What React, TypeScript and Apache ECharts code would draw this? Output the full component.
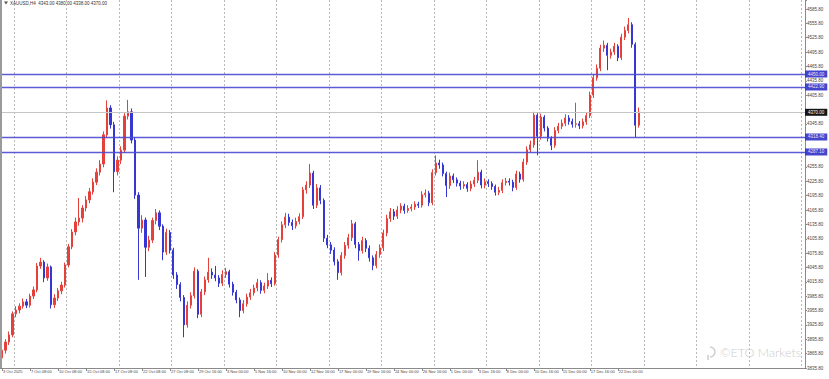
import React, { useEffect, useRef } from "react";
import * as echarts from "echarts";

const symbolTitle = "XAUUSD,H4";

const tickLabels = [
  "3 Oct 2025", "7 Oct 08:00", "10 Oct 08:00", "15 Oct 08:00", "17 Oct 08:00", "22 Oct 08:00",
  "27 Oct 08:00", "29 Oct 16:00", "3 Nov 00:00", "5 Nov 16:00", "10 Nov 00:00", "12 Nov 16:00",
  "17 Nov 00:00", "19 Nov 16:00", "24 Nov 00:00", "26 Nov 16:00", "1 Dec 00:00", "3 Dec 16:00",
  "8 Dec 00:00", "10 Dec 16:00", "15 Dec 00:00", "17 Dec 16:00", "22 Dec 00:00",
];

const yTickLabels = [
  "3835.80", "3865.80", "3895.80", "3925.80", "3955.80", "3985.80", "4015.80", "4045.80",
  "4075.80", "4105.80", "4135.80", "4165.80", "4195.80", "4225.80", "4255.80", "4285.80",
  "4315.80", "4345.80", "4375.80", "4405.80", "4435.80", "4465.80", "4495.80", "4525.80",
  "4555.80", "4585.80",
];

const opens = [
  3857, 3873, 3890, 3905, 3949, 3957, 3965, 3974, 3967, 3986,
  3999, 4049, 4057, 4024, 4047, 3968, 3982, 3997, 4009, 4051,
  4089, 4120, 4141, 4149, 4170, 4187, 4204, 4224, 4245, 4262,
  4323, 4379, 4344, 4246, 4270, 4291, 4362, 4371, 4312, 4197,
  4128, 4145, 4088, 4103, 4144, 4160, 4132, 4078, 4119, 4082,
  4030, 4010, 3983, 3926, 3967, 3987, 4038, 3948, 3995, 4020,
  4036, 4030, 4024, 4013, 4031, 4037, 4011, 3994, 3978, 3956,
  3970, 3984, 3993, 4003, 4014, 3998, 4007, 4019, 4012, 4072,
  4104, 4135, 4151, 4140, 4133, 4142, 4152, 4208, 4218, 4243,
  4176, 4212, 4186, 4107, 4093, 4082, 4058, 4035, 4071, 4092,
  4108, 4137, 4094, 4081, 4102, 4086, 4066, 4050, 4073, 4087,
  4118, 4148, 4162, 4153, 4166, 4174, 4165, 4169, 4172, 4178,
  4176, 4198, 4201, 4181, 4244, 4264, 4260, 4242, 4217, 4237,
  4229, 4222, 4216, 4219, 4211, 4220, 4228, 4245, 4218, 4225,
  4221, 4215, 4203, 4207, 4223, 4226, 4224, 4213, 4241, 4230,
  4266, 4292, 4302, 4364, 4320, 4360, 4337, 4316, 4301, 4332,
  4341, 4347, 4358, 4351, 4345, 4346, 4342, 4350, 4363, 4406,
  4442, 4462, 4504, 4510, 4489, 4496, 4508, 4484, 4527, 4541,
  4553, 4512, 4343,
];

const closes = [
  3873, 3890, 3905, 3949, 3957, 3965, 3974, 3967, 3986, 3999,
  4049, 4057, 4024, 4047, 3968, 3982, 3997, 4009, 4051, 4089,
  4120, 4141, 4149, 4170, 4187, 4204, 4224, 4245, 4262, 4323,
  4379, 4344, 4246, 4270, 4291, 4362, 4371, 4312, 4197, 4128,
  4145, 4088, 4103, 4144, 4160, 4132, 4078, 4119, 4082, 4030,
  4010, 3983, 3926, 3967, 3987, 4038, 3948, 3995, 4020, 4036,
  4030, 4024, 4013, 4031, 4037, 4011, 3994, 3978, 3956, 3970,
  3984, 3993, 4003, 4014, 3998, 4007, 4019, 4012, 4072, 4104,
  4135, 4151, 4140, 4133, 4142, 4152, 4208, 4218, 4243, 4176,
  4212, 4186, 4107, 4093, 4082, 4058, 4035, 4071, 4092, 4108,
  4137, 4094, 4081, 4102, 4086, 4066, 4050, 4073, 4087, 4118,
  4148, 4162, 4153, 4166, 4174, 4165, 4169, 4172, 4178, 4176,
  4198, 4201, 4181, 4244, 4264, 4260, 4242, 4217, 4237, 4229,
  4222, 4216, 4219, 4211, 4220, 4228, 4245, 4218, 4225, 4221,
  4215, 4203, 4207, 4223, 4226, 4224, 4213, 4241, 4230, 4266,
  4292, 4302, 4364, 4320, 4360, 4337, 4316, 4301, 4332, 4341,
  4347, 4358, 4351, 4345, 4346, 4342, 4350, 4363, 4406, 4442,
  4462, 4504, 4510, 4489, 4496, 4508, 4484, 4527, 4541, 4553,
  4512, 4343, 4370,
];

const highs = [
  3884, 3896, 3912, 3954, 3965, 3971, 3981, 3980, 3991, 4006,
  4055, 4066, 4061, 4054, 4050, 3990, 4003, 4016, 4056, 4095,
  4126, 4150, 4191, 4176, 4195, 4212, 4232, 4253, 4270, 4330,
  4395, 4385, 4350, 4278, 4299, 4368, 4396, 4378, 4318, 4203,
  4155, 4150, 4112, 4150, 4168, 4165, 4136, 4127, 4124, 4087,
  4036, 4015, 3988, 3975, 3994, 4046, 4042, 4001, 4027, 4066,
  4044, 4049, 4030, 4040, 4045, 4041, 4016, 3999, 3983, 3978,
  3991, 4001, 4010, 4022, 4019, 4014, 4034, 4025, 4078, 4110,
  4142, 4160, 4158, 4146, 4150, 4159, 4214, 4226, 4262, 4248,
  4220, 4218, 4190, 4114, 4099, 4088, 4063, 4078, 4099, 4116,
  4145, 4141, 4099, 4110, 4107, 4092, 4071, 4080, 4094, 4125,
  4156, 4170, 4168, 4174, 4180, 4179, 4176, 4178, 4184, 4183,
  4205, 4209, 4206, 4251, 4280, 4271, 4265, 4246, 4244, 4242,
  4234, 4227, 4226, 4224, 4227, 4235, 4270, 4250, 4232, 4230,
  4226, 4219, 4214, 4230, 4233, 4232, 4229, 4248, 4246, 4273,
  4299, 4311, 4371, 4368, 4367, 4364, 4341, 4320, 4339, 4348,
  4355, 4366, 4364, 4357, 4390, 4352, 4357, 4370, 4413, 4450,
  4470, 4511, 4520, 4515, 4503, 4515, 4512, 4534, 4549, 4567,
  4558, 4516, 4380,
];

const lows = [
  3848, 3866, 3884, 3900, 3942, 3950, 3960, 3961, 3962, 3980,
  3994, 4043, 4015, 4018, 3960, 3961, 3976, 3990, 4004, 4046,
  4084, 4113, 4133, 4140, 4163, 4180, 4198, 4218, 4238, 4255,
  4316, 4336, 4203, 4238, 4262, 4285, 4355, 4305, 4189, 4020,
  4118, 4026, 4080, 4097, 4136, 4124, 4061, 4072, 4075, 4022,
  4001, 3975, 3900, 3920, 3960, 3981, 3940, 3942, 3988, 4014,
  4022, 4017, 4005, 4007, 4024, 4004, 3987, 3971, 3942, 3950,
  3964, 3978, 3987, 3996, 3991, 3992, 4001, 4005, 4008, 4066,
  4098, 4128, 4133, 4124, 4127, 4136, 4147, 4200, 4212, 4168,
  4170, 4178, 4099, 4086, 4074, 4050, 4020, 4029, 4064, 4085,
  4101, 4086, 4060, 4075, 4078, 4058, 4040, 4044, 4066, 4080,
  4111, 4141, 4145, 4147, 4159, 4158, 4160, 4163, 4166, 4170,
  4171, 4192, 4174, 4176, 4238, 4252, 4236, 4193, 4210, 4222,
  4215, 4208, 4210, 4204, 4205, 4214, 4222, 4211, 4211, 4214,
  4208, 4196, 4197, 4201, 4217, 4217, 4205, 4208, 4223, 4225,
  4260, 4285, 4296, 4280, 4313, 4330, 4309, 4291, 4296, 4326,
  4335, 4341, 4344, 4338, 4338, 4335, 4336, 4344, 4358, 4400,
  4436, 4456, 4496, 4458, 4482, 4490, 4477, 4479, 4521, 4535,
  4505, 4318, 4338,
];

const levelLines = [4450.0, 4422.9, 4318.4, 4287.1];
const currentPrice = 4370.0;

const TOTAL_SLOTS = 230;
const BARS_PER_LABEL = 8;
const BARS_PER_GRID = 15;

const UP = "#e5403a";
const DOWN = "#3636d4";
const LEVEL = "#4a4ad2";

export default function App() {
  const ref = useRef<HTMLDivElement | null>(null);

  useEffect(() => {
    if (!ref.current) return;
    const chart = echarts.init(ref.current, undefined, { renderer: "svg" });

    const categories = Array.from({ length: TOTAL_SLOTS }, (_, i) =>
      i % BARS_PER_LABEL === 0 && tickLabels[i / BARS_PER_LABEL]
        ? tickLabels[i / BARS_PER_LABEL]
        : "slot" + i
    );
    const isLabelIdx = (i: number) =>
      i % BARS_PER_LABEL === 0 && i / BARS_PER_LABEL < tickLabels.length;

    const candleData = closes.map((c, i) => [opens[i], c, lows[i], highs[i]]);
    const last = closes.length - 1;
    const header = `${symbolTitle}  ${opens[last].toFixed(2)} ${highs[last].toFixed(2)} ${lows[last].toFixed(2)} ${closes[last].toFixed(2)}`;

    // price-scale labels that sit under a highlighted price box are covered in the reference
    const boxed = [...levelLines, currentPrice];
    const yLabelFor = (v: number) => {
      if (!Number.isInteger(v) || !yTickLabels[v]) return "";
      const price = parseFloat(yTickLabels[v]);
      if (boxed.some((b) => Math.abs(b - price) < 8)) return "";
      return yTickLabels[v];
    };

    const font = "Liberation Sans";

    const boxLabel = (bg: string) => ({
      show: true,
      position: "end",
      distance: 0,
      formatter: (p: any) => Number(p.value).toFixed(2),
      color: "#ffffff",
      backgroundColor: bg,
      padding: [1, 3, 1, 3],
      fontSize: 4.5,
      fontFamily: font,
    });

    const option: any = {
      animation: false,
      backgroundColor: "#ffffff",
      grid: { left: 0, top: 0, width: 805, height: 368, containLabel: false },
      xAxis: {
        type: "category",
        data: categories,
        boundaryGap: true,
        axisLine: { show: true, lineStyle: { color: "#8a8a8a", width: 1 } },
        axisTick: {
          show: true,
          alignWithLabel: true,
          interval: (i: number) => isLabelIdx(i),
          length: 3,
          lineStyle: { color: "#8a8a8a" },
        },
        axisLabel: {
          show: true,
          interval: (i: number) => isLabelIdx(i),
          formatter: (v: string) => (v.startsWith("slot") ? "" : v),
          align: "left",
          margin: 1,
          padding: [0, 0, 0, 1],
          fontSize: 4,
          color: "#444",
          fontFamily: font,
        },
        splitLine: {
          show: true,
          interval: (i: number) => i % BARS_PER_GRID === 4,
          lineStyle: { color: "#b8b8b8", type: [2, 2], width: 1 },
        },
      },
      yAxis: [
        {
          type: "value",
          position: "right",
          min: 3835.8,
          max: 4604.6,
          show: false,
          scale: true,
          splitLine: { show: false },
        },
        {
          type: "value",
          position: "right",
          min: 0,
          max: 25.627,
          interval: 1,
          axisLine: { show: true, lineStyle: { color: "#8a8a8a", width: 1 } },
          axisTick: { show: true, length: 2, lineStyle: { color: "#8a8a8a" } },
          axisLabel: {
            show: true,
            margin: 2,
            fontSize: 4.5,
            color: "#444",
            fontFamily: font,
            formatter: (v: number) => yLabelFor(v),
          },
          splitLine: { show: false },
        },
      ],
      series: [
        {
          type: "candlestick",
          xAxisIndex: 0,
          yAxisIndex: 0,
          data: candleData,
          barWidth: 1.6,
          itemStyle: {
            color: UP,
            color0: DOWN,
            borderColor: UP,
            borderColor0: DOWN,
            borderWidth: 1,
          },
          markLine: {
            silent: true,
            animation: false,
            symbol: ["circle", "none"],
            symbolSize: 3,
            precision: 2,
            data: [
              ...levelLines.map((v) => ({
                yAxis: v,
                lineStyle: { color: LEVEL, width: 1.4, type: "solid", opacity: 0.9 },
                label: boxLabel("#3030c8"),
              })),
              {
                yAxis: currentPrice,
                symbol: "none",
                lineStyle: { color: "#c4c4c4", width: 1, type: "solid" },
                label: boxLabel("#151515"),
              },
            ],
          },
        },
      ],
      graphic: [
        {
          type: "line",
          shape: { x1: 1, y1: 0, x2: 1, y2: 368 },
          style: { stroke: "#9a9a9a", lineWidth: 2 },
          z: 10,
        },
        {
          type: "polygon",
          shape: { points: [[4, 1.5], [8, 1.5], [6, 4.5]] },
          style: { fill: "#555" },
          z: 10,
        },
        {
          type: "text",
          x: 10,
          y: 3,
          style: {
            text: header,
            fontSize: 4.5,
            fill: "#333",
            fontFamily: font,
            verticalAlign: "middle",
          },
          z: 10,
        },
        {
          type: "arc",
          shape: { cx: 710, cy: 352, r: 5, startAngle: -Math.PI / 2, endAngle: Math.PI / 2, clockwise: true },
          style: { stroke: "#cfcfcf", lineWidth: 1.6, fill: "none" },
          z: 1,
        },
        {
          type: "line",
          shape: { x1: 708, y1: 355, x2: 708, y2: 360 },
          style: { stroke: "#cfcfcf", lineWidth: 1.6 },
          z: 1,
        },
        {
          type: "text",
          x: 720,
          y: 352,
          style: {
            text: "©ETO Markets",
            fontSize: 12.5,
            fill: "#cdcdcd",
            fontFamily: "Lato",
            fontWeight: 300,
            verticalAlign: "middle",
          },
          z: 1,
        },
      ],
    };

    chart.setOption(option);
    return () => chart.dispose();
  }, []);

  return (
    <div
      ref={ref}
      style={{ position: "fixed", left: 0, top: 0, width: 829, height: 379, background: "#fff" }}
    />
  );
}
